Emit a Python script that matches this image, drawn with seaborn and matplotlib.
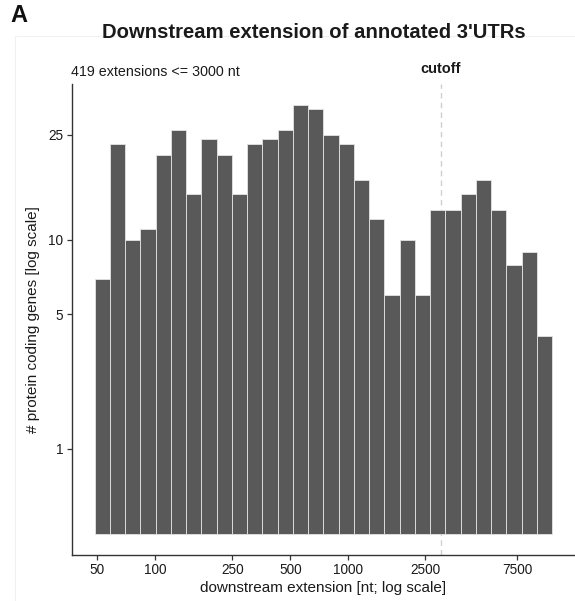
import numpy as np
import pandas as pd
import matplotlib
matplotlib.use("Agg")
import matplotlib.pyplot as plt
import matplotlib.transforms as mtransforms
from matplotlib.lines import Line2D
from matplotlib.ticker import NullLocator, FixedLocator, FixedFormatter
import seaborn as sns

# ---- data ----
counts = [7, 23, 10, 11, 21, 26, 15, 24, 21, 15, 23, 24, 26, 32, 31,
          25, 23, 17, 12, 6, 10, 6, 13, 13, 15, 17, 13, 8, 9, 4]
bin_lo = 48.35          # left edge of first bin (nt)
bin_hi = 11360.0        # right edge of last bin (nt)
n_bins = 30
x_ticks = [50, 100, 250, 500, 1000, 2500, 7500]
y_ticks = [1, 5, 10, 25]
cutoff = 3000
title = "Downstream extension of annotated 3'UTRs"
subtitle = "419 extensions <= 3000 nt"
xlabel = "downstream extension [nt; log scale]"
ylabel = "# protein coding genes [log scale]"

# geometric bin centres used as weighted observations
log_edges = np.linspace(np.log10(bin_lo), np.log10(bin_hi), n_bins + 1)
centres = 10 ** ((log_edges[:-1] + log_edges[1:]) / 2)
df = pd.DataFrame({"extension": centres, "n": counts})

sns.set_style("white")
plt.rcParams["font.family"] = ["Liberation Sans", "DejaVu Sans"]

W, H = 575, 601
fig = plt.figure(figsize=(W / 100, H / 100), dpi=100)
ax_l, ax_r, ax_t, ax_b = 71.7, 575.0, 84.0, 555.0
ax = fig.add_axes([ax_l / W, 1 - ax_b / H, (ax_r - ax_l) / W, (ax_b - ax_t) / H])

ax.axvline(cutoff, color="#cfcfcf", lw=1.0, ls=(0, (4, 3)), zorder=0.5)

sns.histplot(data=df, x="extension", weights="n", bins=n_bins,
             binrange=(np.log10(bin_lo), np.log10(bin_hi)),
             log_scale=(True, False), ax=ax, color="#595959",
             edgecolor="#e4e4e4", linewidth=0.6, alpha=1, zorder=2)

fwd = lambda y: np.log10(np.maximum(y, -0.999) + 1)
inv = lambda y: 10 ** y - 1
ax.set_yscale("function", functions=(fwd, inv))

lx0, lx1 = np.log10(bin_lo), np.log10(bin_hi)
ex = 0.05 * (lx1 - lx0)
ax.set_xlim(10 ** (lx0 - ex), 10 ** (lx1 + ex))
ly1 = np.log10(max(counts) + 1)
ax.set_ylim(10 ** (-0.05 * ly1) - 1, 10 ** (1.05 * ly1) - 1)

ax.xaxis.set_major_locator(FixedLocator(x_ticks))
ax.xaxis.set_major_formatter(FixedFormatter([str(v) for v in x_ticks]))
ax.xaxis.set_minor_locator(NullLocator())
ax.yaxis.set_major_locator(FixedLocator(y_ticks))
ax.yaxis.set_major_formatter(FixedFormatter([str(v) for v in y_ticks]))
ax.yaxis.set_minor_locator(NullLocator())

for s in ["top", "right"]:
    ax.spines[s].set_visible(False)
for s in ["left", "bottom"]:
    ax.spines[s].set_color("#333333")
    ax.spines[s].set_linewidth(1.0)
ax.tick_params(axis="both", which="major", bottom=True, left=True,
               direction="out", length=3.4, width=0.9,
               color="#333333", labelsize=9.8, labelcolor="#1a1a1a", pad=2.2)
ax.tick_params(axis="y", pad=2.6)

ax.set_xlabel(xlabel, fontsize=11, color="#1a1a1a", labelpad=3)
ax.set_ylabel(ylabel, fontsize=11, color="#1a1a1a", labelpad=6)

trans = mtransforms.blended_transform_factory(ax.transData, ax.transAxes)
ax.text(cutoff, 1.032, "cutoff", transform=trans, ha="center", va="center",
        fontsize=10.5, fontweight="bold", color="#1a1a1a")

fig.text(314 / W, 1 - 32 / H, title, ha="center", va="center",
         fontsize=14.6, fontweight="bold", color="#1a1a1a")
fig.text(10 / W, 1 - 16 / H, "A", ha="left", va="center",
         fontsize=17, fontweight="bold", color="#111111")
fig.text(71 / W, 1 - 72 / H, subtitle, ha="left", va="center",
         fontsize=10.3, color="#1a1a1a")

# faint frame of the panel
fig.add_artist(Line2D([14.5 / W, 1.0], [1 - 35.5 / H] * 2, color="#f0f0f0", lw=0.8))
fig.add_artist(Line2D([14.5 / W] * 2, [1 - 35.5 / H, 0.0], color="#f0f0f0", lw=0.8))

fig.savefig("out.png", dpi=100)
